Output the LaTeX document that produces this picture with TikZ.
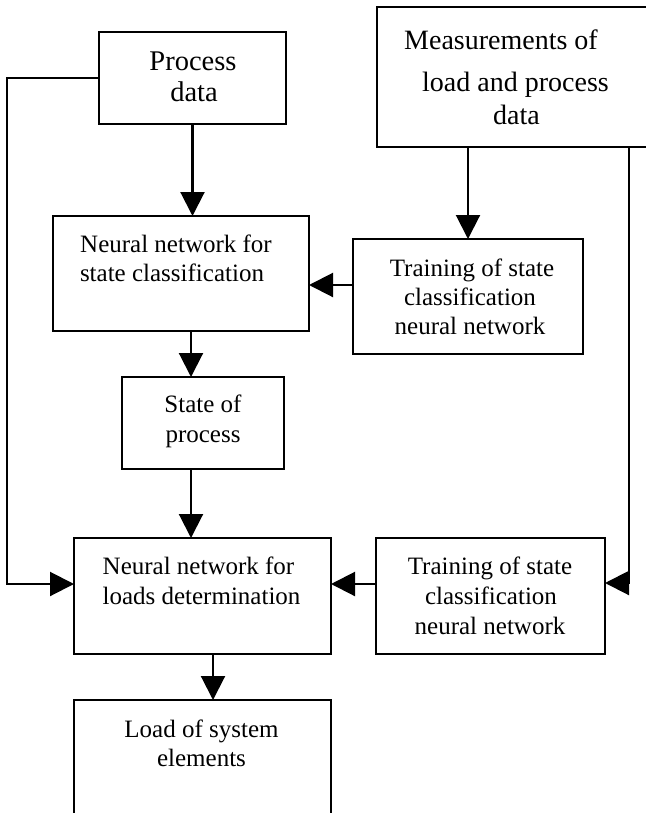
\documentclass[tikz,border=0pt]{standalone}
\usepackage{fontspec}
\setmainfont{Liberation Serif}
\usetikzlibrary{arrows.meta}
\begin{document}
\begin{tikzpicture}[x=1pt,y=-1pt,
  box/.style={draw=black,line width=2.1pt,outer sep=0pt,inner sep=0pt},
  arr/.style={draw=black,line width=2.1pt,-{Triangle[length=24pt,width=24pt]}},
  txt/.style={anchor=base,inner sep=0pt,font=\fontsize{25}{30}\selectfont},
  txtb/.style={anchor=base,inner sep=0pt,font=\fontsize{28.5}{33}\selectfont},
  txtc/.style={anchor=base,inner sep=0pt,font=\fontsize{28}{33}\selectfont}]
\fill[white] (0,0) rectangle (645,813);
\useasboundingbox (0,0) rectangle (645,813);
% boxes
\node[box,minimum width=187pt,minimum height=92pt] (proc) at (192.5,78) {};
\node[box,minimum width=283pt,minimum height=140pt] (meas) at (518.5,77) {};
\node[box,minimum width=256pt,minimum height=115pt] (nnstate) at (181,273.5) {};
\node[box,minimum width=230pt,minimum height=115pt] (train1) at (468,296.5) {};
\node[box,minimum width=162pt,minimum height=92pt] (state) at (203,423) {};
\node[box,minimum width=257pt,minimum height=116pt] (nnload) at (202.5,596) {};
\node[box,minimum width=229pt,minimum height=116pt] (train2) at (490.5,596) {};
\node[box,minimum width=257pt,minimum height=140pt] (load) at (202.5,770) {};
% texts
\node[txtb] (t1a) at (193,70.5) {Process};
\node[txtb] (t1b) at (194,102) {data};
\node[txtc] (t2a) at (501,50) {Measurements of};
\node[txtc] (t2b) at (515.5,91.5) {load and process};
\node[txtc] (t2c) at (516.5,124.5) {data};
\node[txt] (t3a) at (176,252.5) {Neural network for};
\node[txt] (t3b) at (172,281.5) {state classification};
\node[txt] (t4a) at (472,276) {Training of state};
\node[txt] (t4b) at (470,305) {classification};
\node[txt] (t4c) at (470,334) {neural network};
\node[txt] (t5a) at (203,412.7) {State of};
\node[txt] (t5b) at (203,442.7) {process};
\node[txt] (t6a) at (198.5,574) {Neural network for};
\node[txt] (t6b) at (201.5,604) {loads determination};
\node[txt] (t7a) at (490,574) {Training of state};
\node[txt] (t7b) at (491,604) {classification};
\node[txt] (t7c) at (490,634) {neural network};
\node[txt] (t8a) at (201.5,737) {Load of system};
\node[txt] (t8b) at (201.5,766) {elements};
% connectors
\coordinate (lc) at (7,584);
\coordinate (rc) at (629,583);
\draw[arr] (proc.west) -| (lc) -- (lc -| nnload.west);
\draw[arr] (proc.south) -- (proc.south |- nnstate.north);
\draw[arr] (meas.south -| train1.north) -- (train1.north);
\draw[arr] (meas.south -| rc) -- (rc) -- (rc -| train2.east);
\draw[arr] ([yshift=11.5pt]train1.west) -- ([yshift=11.5pt]train1.west -| nnstate.east);
\draw[arr] (191,0 |- nnstate.south) -- (191,0 |- state.north);
\draw[arr] (191,0 |- state.south) -- (191,0 |- nnload.north);
\draw[arr] (train2.west |- lc) -- (nnload.east |- lc);
\draw[arr] (213,0 |- nnload.south) -- (213,0 |- load.north);
\end{tikzpicture}
\end{document}
